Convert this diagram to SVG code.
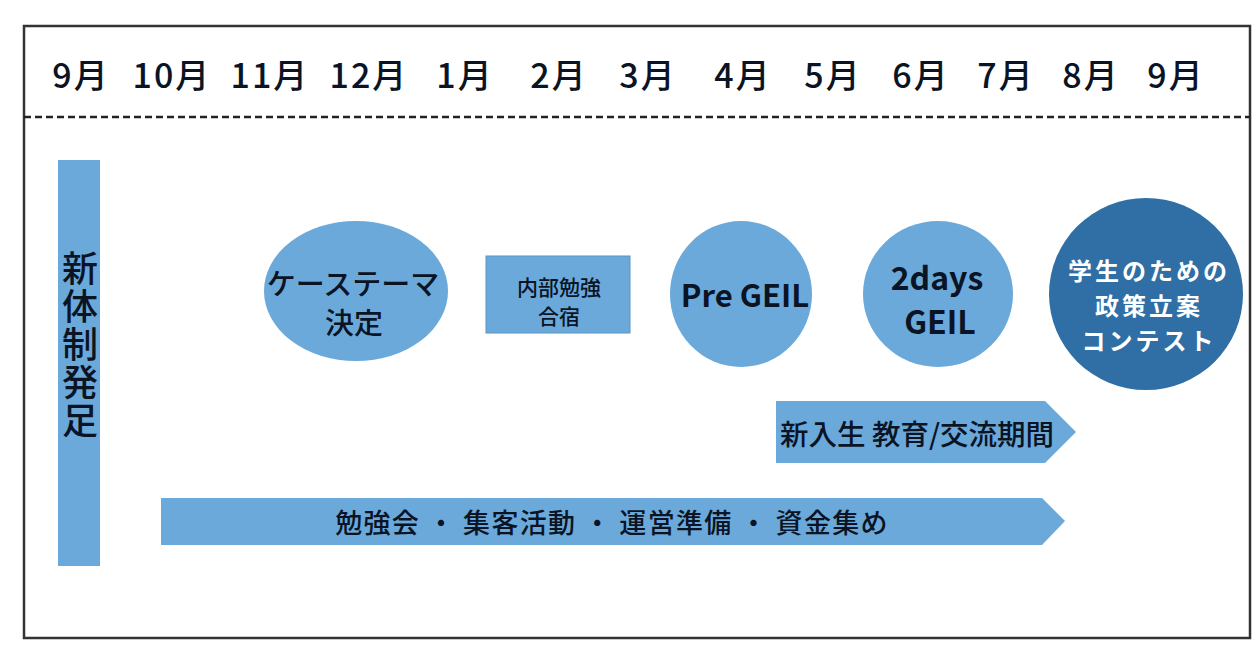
<svg xmlns="http://www.w3.org/2000/svg" width="1257" height="653" viewBox="0 0 1257 653">
<style>
.t{font-family:"Noto Sans CJK JP","Noto Sans",sans-serif;fill:#0a1424;text-anchor:middle;dominant-baseline:central}
.m{font-size:34px;font-weight:500;letter-spacing:2px}
.lb{fill:#6aa9da}
.dk{fill:#2f6fa5}
.w{fill:#fff}
.frame{fill:none;stroke:#333;stroke-width:2.5}
</style>
<rect width="1257" height="653" fill="#fff"/>
<g id="frame">
<rect class="frame" x="24" y="26" width="1226" height="612"/>
<line x1="24" y1="117" x2="1250" y2="117" stroke="#222" stroke-width="2.5" stroke-dasharray="7 4"/>
</g>
<g id="months">
<text class="t m" x="81" y="73">9月</text>
<text class="t m" x="172" y="73">10月</text>
<text class="t m" x="270" y="73">11月</text>
<text class="t m" x="369" y="73">12月</text>
<text class="t m" x="465" y="73">1月</text>
<text class="t m" x="559" y="73">2月</text>
<text class="t m" x="648" y="73">3月</text>
<text class="t m" x="743" y="73">4月</text>
<text class="t m" x="833" y="73">5月</text>
<text class="t m" x="921" y="73">6月</text>
<text class="t m" x="1006" y="73">7月</text>
<text class="t m" x="1091" y="73">8月</text>
<text class="t m" x="1176" y="73">9月</text>
</g>
<g id="node-shintaisei">
<rect class="lb" x="58" y="160" width="42" height="406"/>
<text x="80" y="250" font-family="Noto Sans CJK JP, sans-serif" font-size="36" font-weight="500" fill="#0a1424" writing-mode="tb" letter-spacing="2">新体制発足</text>
</g>
<g id="node-case">
<ellipse class="lb" cx="356" cy="291" rx="92" ry="70"/>
<text class="t" font-size="29" font-weight="500" x="353" y="282">ケーステーマ</text>
<text class="t" font-size="29" font-weight="500" x="354" y="321">決定</text>
</g>
<g id="node-gasshuku">
<rect class="lb" x="486" y="256" width="144" height="77" stroke="#5b93c2" stroke-width="1"/>
<text class="t" font-size="21" font-weight="500" x="559" y="286">内部勉強</text>
<text class="t" font-size="21" font-weight="500" x="559" y="315">合宿</text>
</g>
<g id="node-pregeil">
<ellipse class="lb" cx="741" cy="294" rx="71" ry="73"/>
<text class="t" font-size="31" font-weight="600" x="745" y="293">Pre GEIL</text>
</g>
<g id="node-2days">
<ellipse class="lb" cx="938" cy="294" rx="75" ry="73"/>
<text class="t" font-size="32" font-weight="700" x="937" y="276">2days</text>
<text class="t" font-size="32" font-weight="700" x="940" y="320">GEIL</text>
</g>
<g id="node-contest">
<ellipse class="dk" cx="1146" cy="294" rx="97" ry="96"/>
<text class="t w" font-size="24" font-weight="700" letter-spacing="3" x="1149" y="269" style="fill:#fff">学生のための</text>
<text class="t w" font-size="24" font-weight="700" letter-spacing="3" x="1149" y="304" style="fill:#fff">政策立案</text>
<text class="t w" font-size="24" font-weight="700" letter-spacing="3" x="1149" y="339" style="fill:#fff">コンテスト</text>
</g>
<g id="connectors">
<g id="arrow-shinnyusei">
<polygon class="lb" points="776,401 1045,401 1076,432 1045,463 776,463"/>
<text class="t" font-size="28.5" font-weight="500" x="917" y="432">新入生 教育/交流期間</text>
</g>
<g id="arrow-benkyokai">
<polygon class="lb" points="161,498 1042,498 1065,521 1042,545 161,545"/>
<text class="t" font-size="27" font-weight="500" letter-spacing="1.3" x="612" y="521">勉強会 ・ 集客活動 ・ 運営準備 ・ 資金集め</text>
</g>
</g>
</svg>
